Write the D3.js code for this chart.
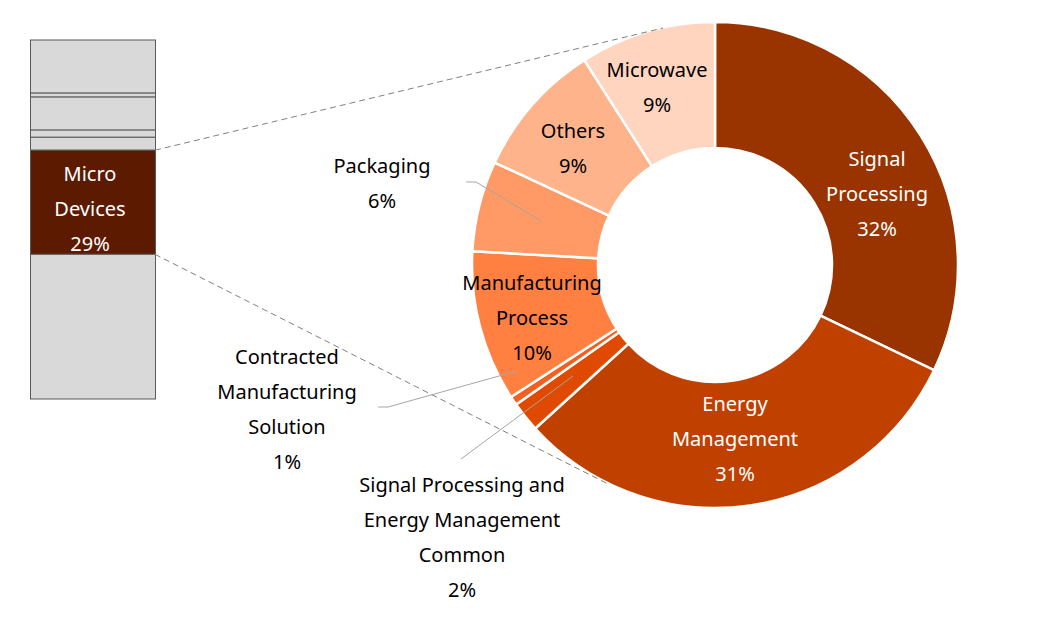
<!DOCTYPE html>
<html><head><meta charset="utf-8">
<script src="https://cdn.jsdelivr.net/npm/d3@7"></script>
<style>body{margin:0;background:#fff}text{font-family:"Noto Sans","DejaVu Sans",sans-serif;font-size:20px}</style>
</head><body><svg width="1046" height="619"></svg>
<script>
const categories=["Signal Processing","Energy Management","Signal Processing and Energy Management Common","Contracted Manufacturing Solution","Manufacturing Process","Packaging","Others","Microwave"];
const values=[32,31,2,0.6,10,6,9,9];
const pctLabels=["32%","31%","2%","1%","10%","6%","9%","9%"];
const colors=["#993300","#C04000","#E04A00","#F06020","#FF8040","#FF9966","#FFB38A","#FFD5C0"];
const barValues=[14.8,1.1,9.2,2.0,3.6,29,40.3];
const barHighlight=5;

const svg=d3.select("svg");
const cx=715,cy=265,R=243,r=117;
const pie=d3.pie().sort(null).value(d=>d)(values);
const arc=d3.arc().innerRadius(r).outerRadius(R);
const g=svg.append("g").attr("transform",`translate(${cx},${cy})`);
g.selectAll("path").data(pie).join("path").attr("d",arc).attr("fill",(d,i)=>colors[i]).attr("stroke","#fff").attr("stroke-width",2.5);

// bar
const by=d3.scaleLinear().domain([0,d3.sum(barValues)]).range([40,399]);
let acc=0;
const segs=barValues.map(v=>{const s={y0:acc,y1:acc+v};acc+=v;return s;});
svg.selectAll("rect.b").data(segs).join("rect").attr("x",30.5).attr("width",125)
 .attr("y",d=>by(d.y0)).attr("height",d=>by(d.y1)-by(d.y0))
 .attr("fill",(d,i)=>i===barHighlight?"#5C1A00":"#D9D9D9").attr("stroke","#595959").attr("stroke-width",1);
const hs=segs[barHighlight];
// dashed connectors
const dash=[[155,by(hs.y0),663,28],[155,by(hs.y1),610,485]];
svg.selectAll("line.d").data(dash).join("line").attr("x1",d=>d[0]).attr("y1",d=>d[1]).attr("x2",d=>d[2]).attr("y2",d=>d[3]).attr("stroke","#808080").attr("stroke-dasharray","6,4");

function lbl(lines,x,y,fill){const t=svg.append("text").attr("text-anchor","middle").attr("fill",fill||"#000");
 lines.forEach((l,i)=>t.append("tspan").attr("x",x).attr("y",y+i*35).text(l));}
// leader lines
const leaders=[[466,182,476,182,541,221],[378,407,388,407,517,371],[461,459,461,459,573,376]];
leaders.forEach(p=>svg.append("polyline").attr("points",`${p[0]},${p[1]} ${p[2]},${p[3]} ${p[4]},${p[5]}`).attr("fill","none").attr("stroke","#A6A6A6").attr("stroke-width",1));

lbl(["Micro","Devices",barValues[barHighlight]+"%"],90,181,"#fff");
lbl(["Signal","Processing",pctLabels[0]],877,166,"#fff");
lbl(["Energy","Management",pctLabels[1]],735,411,"#fff");
lbl(["Signal Processing and","Energy Management","Common",pctLabels[2]],462,492);
lbl(["Contracted","Manufacturing","Solution",pctLabels[3]],287,364);
lbl(["Manufacturing","Process",pctLabels[4]],532,290);
lbl(["Packaging",pctLabels[5]],382,173);
lbl(["Others",pctLabels[6]],573,138);
lbl(["Microwave",pctLabels[7]],657,77);
</script></body></html>
